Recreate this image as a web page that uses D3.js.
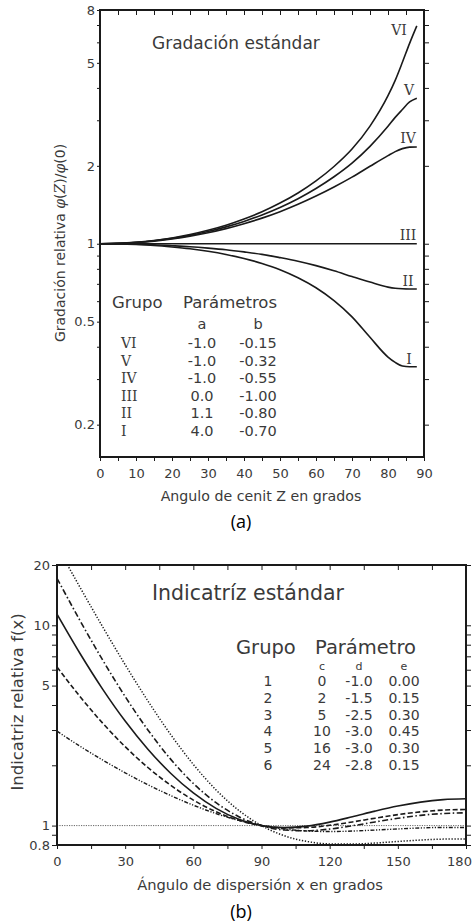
<!DOCTYPE html>
<html>
<head>
<meta charset="utf-8">
<script src="https://cdn.jsdelivr.net/npm/d3@7"></script>
<style>
  body { margin: 0; background: #fff; }
  text { font-family: "DejaVu Sans", sans-serif; fill: #3a3a3a; }
  .serif { font-family: "DejaVu Serif", serif; }
  .cap { font-family: "Open Sans", sans-serif; fill: #000; }
</style>
</head>
<body>
<svg id="chart" width="472" height="924"></svg>
<script>
// ---- panel (a): gradación estándar ----
const zenith = [0, 5, 10, 15, 20, 25, 30, 35, 40, 45, 50, 55, 60, 65, 70, 75, 80, 82, 84, 86, 88];
const gradVI  = [1.000, 1.003, 1.013, 1.030, 1.053, 1.085, 1.127, 1.179, 1.246, 1.329, 1.436, 1.571, 1.749, 1.988, 2.322, 2.848, 3.733, 4.280, 5.025, 5.946, 6.945];
const gradV   = [1.000, 1.003, 1.012, 1.027, 1.049, 1.077, 1.115, 1.162, 1.220, 1.292, 1.381, 1.493, 1.635, 1.815, 2.049, 2.378, 2.842, 3.078, 3.300, 3.530, 3.650];
const gradIV  = [1.000, 1.003, 1.011, 1.024, 1.044, 1.070, 1.103, 1.144, 1.195, 1.256, 1.330, 1.420, 1.528, 1.656, 1.808, 1.992, 2.191, 2.270, 2.331, 2.363, 2.364];
const gradIII = [1, 1, 1, 1, 1, 1, 1, 1, 1, 1, 1, 1, 1, 1, 1, 1, 1, 1, 1, 1, 1];
const gradII  = [1.000, 0.999, 0.996, 0.991, 0.983, 0.974, 0.962, 0.948, 0.930, 0.910, 0.884, 0.856, 0.823, 0.786, 0.747, 0.711, 0.680, 0.673, 0.670, 0.669, 0.669];
const gradI   = [1.000, 0.998, 0.993, 0.985, 0.972, 0.956, 0.935, 0.909, 0.877, 0.839, 0.794, 0.739, 0.676, 0.603, 0.522, 0.435, 0.365, 0.348, 0.337, 0.335, 0.335];
const gradGroups = ["VI", "V", "IV", "III", "II", "I"];
const gradA = ["-1.0", "-1.0", "-1.0", "0.0", "1.1", "4.0"];
const gradB = ["-0.15", "-0.32", "-0.55", "-1.00", "-0.80", "-0.70"];
const gradTicks = [0.2, 0.3, 0.4, 0.5, 0.6, 0.7, 0.8, 0.9, 1, 2, 3, 4, 5, 6, 7, 8];
const gradLabels = [0.2, 0.5, 1, 2, 5, 8];

// ---- panel (b): indicatriz estándar ----
const scatter = [0, 10, 20, 30, 40, 50, 60, 70, 80, 90, 100, 110, 120, 130, 140, 150, 160, 170, 180];
const ind1 = [1, 1, 1, 1, 1, 1, 1, 1, 1, 1, 1, 1, 1, 1, 1, 1, 1, 1, 1];
const ind2 = [2.960, 2.495, 2.128, 1.835, 1.600, 1.413, 1.264, 1.148, 1.061, 1.000, 0.961, 0.940, 0.934, 0.939, 0.950, 0.962, 0.973, 0.979, 0.978];
const ind3 = [6.201, 4.424, 3.256, 2.477, 1.950, 1.590, 1.341, 1.172, 1.063, 1.000, 0.974, 0.978, 1.003, 1.043, 1.089, 1.134, 1.171, 1.195, 1.203];
const ind4 = [11.360, 7.270, 4.817, 3.326, 2.406, 1.826, 1.455, 1.219, 1.075, 1.000, 0.977, 0.994, 1.041, 1.107, 1.181, 1.252, 1.310, 1.348, 1.361];
const ind5 = [17.156, 10.625, 6.736, 4.407, 3.003, 2.147, 1.623, 1.301, 1.108, 1.000, 0.950, 0.942, 0.961, 0.998, 1.043, 1.087, 1.125, 1.149, 1.158];
const ind6 = [24.855, 15.573, 9.868, 6.357, 4.191, 2.851, 2.021, 1.507, 1.191, 1.000, 0.890, 0.833, 0.810, 0.809, 0.818, 0.833, 0.847, 0.856, 0.858];
const indGroups = ["1", "2", "3", "4", "5", "6"];
const indC = ["0", "2", "5", "10", "16", "24"];
const indD = ["-1.0", "-1.5", "-2.5", "-3.0", "-3.0", "-2.8"];
const indE = ["0.00", "0.15", "0.30", "0.45", "0.30", "0.15"];
const indTicks = [0.8, 0.9, 1, 2, 3, 4, 5, 6, 7, 8, 9, 10, 20];
const indLabels = [0.8, 1, 5, 10, 20];

const svg = d3.select("#chart");
const ink = "#1a1a1a";

function frame(g, x, y) {
  g.append("rect")
    .attr("x", x.range()[0]).attr("y", y.range()[1])
    .attr("width", x.range()[1] - x.range()[0])
    .attr("height", y.range()[0] - y.range()[1])
    .attr("fill", "none").attr("stroke", ink).attr("stroke-width", 2);
}

function styleAxis(sel, fs) {
  sel.select(".domain").remove();
  sel.selectAll(".tick line").attr("stroke", ink);
  sel.selectAll(".tick text").attr("fill", "#3a3a3a")
    .style("font-family", "DejaVu Sans").style("font-size", fs + "px");
}

// ===== panel (a) =====
const xA = d3.scaleLinear().domain([0, 90]).range([100, 424]);
const yA = d3.scaleLog().domain([0.15, 8]).range([457, 10]);
const gA = svg.append("g");

gA.append("g").attr("transform", "translate(100,0)")
  .call(d3.axisLeft(yA).tickValues(gradTicks).tickSize(3).tickPadding(2)
    .tickFormat(d => gradLabels.includes(d) ? d : ""))
  .call(s => styleAxis(s, 13));
gA.append("g").attr("transform", "translate(424,0)")
  .call(d3.axisRight(yA).tickValues(gradTicks).tickSize(5).tickFormat(""))
  .call(s => styleAxis(s, 13));
gA.append("g").attr("transform", "translate(0,10)")
  .call(d3.axisTop(xA).tickValues(d3.range(0, 91, 5)).tickSize(-5).tickFormat(""))
  .call(s => styleAxis(s, 13));
gA.append("g").attr("transform", "translate(0,457)")
  .call(d3.axisBottom(xA).tickValues(d3.range(0, 91, 5)).tickSize(4).tickPadding(8)
    .tickFormat(d => d % 10 === 0 ? d : ""))
  .call(s => styleAxis(s, 13));

const lineA = d3.line().x(d => xA(d[0])).y(d => yA(d[1])).curve(d3.curveMonotoneX);
[gradVI, gradV, gradIV, gradIII, gradII, gradI].forEach(vals => {
  gA.append("path")
    .attr("d", lineA(zenith.map((z, i) => [z, vals[i]])))
    .attr("fill", "none").attr("stroke", ink).attr("stroke-width", 1.6);
});
frame(gA, xA, yA);

// curve labels
const curveLab = [["VI", 399, 35], ["V", 409, 95], ["IV", 408, 143], ["III", 408, 240], ["II", 408, 286], ["I", 409, 364]];
gA.selectAll(".clab").data(curveLab).enter().append("text")
  .attr("class", "serif").attr("x", d => d[1]).attr("y", d => d[2])
  .attr("text-anchor", "middle").style("font-size", "14px").text(d => d[0]);

gA.append("text").attr("x", 152).attr("y", 49).style("font-size", "17px").text("Gradación estándar");

// legend table
gA.append("text").attr("x", 112).attr("y", 308).style("font-size", "16.5px").text("Grupo");
gA.append("text").attr("x", 183).attr("y", 308).style("font-size", "16.5px").text("Parámetros");
gA.append("text").attr("x", 202).attr("y", 329).attr("text-anchor", "middle").style("font-size", "14.5px").text("a");
gA.append("text").attr("x", 258).attr("y", 329).attr("text-anchor", "middle").style("font-size", "14.5px").text("b");
gradGroups.forEach((g, i) => {
  const y = 348 + i * 17.6;
  gA.append("text").attr("class", "serif").attr("x", 121).attr("y", y).style("font-size", "14px").text(g);
  gA.append("text").attr("x", 202).attr("y", y).attr("text-anchor", "middle").style("font-size", "14.5px").text(gradA[i]);
  gA.append("text").attr("x", 258).attr("y", y).attr("text-anchor", "middle").style("font-size", "14.5px").text(gradB[i]);
});

// axis titles
const ytA = gA.append("text").attr("transform", "translate(65,243) rotate(-90)")
  .attr("text-anchor", "middle").style("font-size", "14px");
ytA.append("tspan").text("Gradación relativa ");
ytA.append("tspan").attr("class", "serif").style("font-style", "italic").text("φ");
ytA.append("tspan").text("(");
ytA.append("tspan").attr("class", "serif").style("font-style", "italic").text("Z");
ytA.append("tspan").text(")/");
ytA.append("tspan").attr("class", "serif").style("font-style", "italic").text("φ");
ytA.append("tspan").text("(0)");

gA.append("text").attr("x", 261).attr("y", 501).attr("text-anchor", "middle")
  .style("font-size", "14.2px").text("Angulo de cenit Z en grados");
gA.append("text").attr("class", "cap").attr("x", 241).attr("y", 528).attr("text-anchor", "middle")
  .style("font-size", "18px").text("(a)");

// ===== panel (b) =====
const xB = d3.scaleLinear().domain([0, 180]).range([57, 466]);
const yB = d3.scaleLog().domain([0.8, 20]).range([845, 565]);
const gB = svg.append("g");

svg.append("defs").append("clipPath").attr("id", "clipB").append("rect")
  .attr("x", 57).attr("y", 565).attr("width", 409).attr("height", 280);

gB.append("g").attr("transform", "translate(57,0)")
  .call(d3.axisLeft(yB).tickValues(indTicks).tickSize(5).tickPadding(2)
    .tickFormat(d => indLabels.includes(d) ? d : ""))
  .call(s => styleAxis(s, 13));
gB.append("g").attr("transform", "translate(466,0)")
  .call(d3.axisRight(yB).tickValues(indTicks).tickSize(5).tickFormat(""))
  .call(s => styleAxis(s, 13));
gB.append("g").attr("transform", "translate(0,565)")
  .call(d3.axisTop(xB).tickValues(d3.range(0, 181, 15)).tickSize(-5).tickFormat(""))
  .call(s => styleAxis(s, 13));
gB.append("g").attr("transform", "translate(0,845)")
  .call(d3.axisBottom(xB).tickValues(d3.range(0, 181, 15)).tickSize(4).tickPadding(8)
    .tickFormat(d => d % 30 === 0 ? d : ""))
  .call(s => styleAxis(s, 13))
  .call(s => s.selectAll(".tick text").filter(d => d === 180).attr("dx", "-7"));

const lineB = d3.line().x(d => xB(d[0])).y(d => yB(d[1])).curve(d3.curveMonotoneX);
const indSeries = [
  { vals: ind1, dash: "1.2,1.2", w: 0.9, col: "#555" },
  { vals: ind2, dash: "4,1.6,1.2,1.6,1.2,1.6", w: 1.4, col: ink },
  { vals: ind3, dash: "5,2.5", w: 1.6, col: ink },
  { vals: ind4, dash: null, w: 1.6, col: ink },
  { vals: ind5, dash: "6,2.5,1.5,2.5", w: 1.6, col: ink },
  { vals: ind6, dash: "1.3,1.7", w: 1.5, col: ink }
];
const plotB = gB.append("g").attr("clip-path", "url(#clipB)");
indSeries.forEach(s => {
  plotB.append("path")
    .attr("d", lineB(scatter.map((x, i) => [x, s.vals[i]])))
    .attr("fill", "none").attr("stroke", s.col).attr("stroke-width", s.w)
    .attr("stroke-dasharray", s.dash);
});
frame(gB, xB, yB);

gB.append("text").attr("x", 152).attr("y", 600).style("font-size", "20.5px").text("Indicatríz estándar");

gB.append("text").attr("x", 236).attr("y", 654).style("font-size", "19.5px").text("Grupo");
gB.append("text").attr("x", 315).attr("y", 654).style("font-size", "19.5px").text("Parámetro");
[["c", 322], ["d", 359], ["e", 404]].forEach(h => {
  gB.append("text").attr("x", h[1]).attr("y", 670).attr("text-anchor", "middle")
    .style("font-size", "11px").text(h[0]);
});
indGroups.forEach((g, i) => {
  const y = 686 + i * 16.8;
  gB.append("text").attr("x", 268).attr("y", y).attr("text-anchor", "middle").style("font-size", "14px").text(g);
  gB.append("text").attr("x", 322).attr("y", y).attr("text-anchor", "middle").style("font-size", "14px").text(indC[i]);
  gB.append("text").attr("x", 359).attr("y", y).attr("text-anchor", "middle").style("font-size", "14px").text(indD[i]);
  gB.append("text").attr("x", 404).attr("y", y).attr("text-anchor", "middle").style("font-size", "14px").text(indE[i]);
});

gB.append("text").attr("transform", "translate(23,702) rotate(-90)").attr("text-anchor", "middle")
  .style("font-size", "16.5px").text("Indicatriz relativa f(x)");
gB.append("text").attr("x", 260).attr("y", 890).attr("text-anchor", "middle")
  .style("font-size", "14.7px").text("Ángulo de dispersión x en grados");
gB.append("text").attr("class", "cap").attr("x", 241).attr("y", 918).attr("text-anchor", "middle")
  .style("font-size", "18px").text("(b)");
</script>
</body>
</html>
